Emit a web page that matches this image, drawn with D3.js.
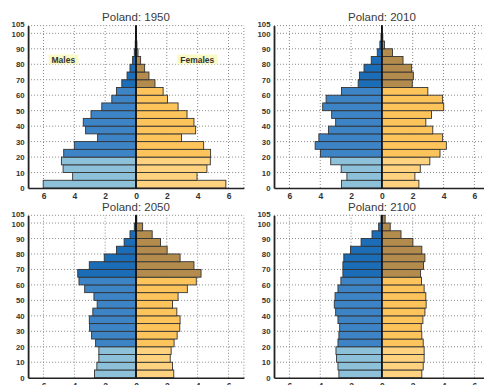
<!DOCTYPE html>
<html>
<head>
<meta charset="utf-8">
<script src="https://cdn.jsdelivr.net/npm/d3@7/dist/d3.min.js"></script>
<style>
  html, body { margin: 0; padding: 0; background: #fff; }
  svg { display: block; }
  text { font-family: "Liberation Sans", Arial, sans-serif; }
</style>
</head>
<body>
<div id="chart"></div>
<script>
// Age groups (lower bound of each five-year band; last band is 100+)
const ageStarts = [0, 5, 10, 15, 20, 25, 30, 35, 40, 45, 50, 55, 60, 65, 70, 75, 80, 85, 90, 95, 100];

const years = ["1950", "2010", "2050", "2100"];

// Share of population (%) per age band, males
const males1950 = [6.02, 4.11, 4.73, 4.84, 4.69, 4.00, 2.49, 3.27, 3.42, 2.92, 2.22, 1.57, 1.27, 0.92, 0.58, 0.39, 0.22, 0.11, 0.05, 0.02, 0.01];
const males2010 = [2.62, 2.27, 2.64, 3.32, 3.99, 4.33, 4.09, 3.47, 3.00, 3.26, 3.84, 3.62, 2.62, 1.54, 1.46, 1.16, 0.69, 0.30, 0.13, 0.06, 0.01];
const males2050 = [2.69, 2.54, 2.41, 2.41, 2.62, 2.88, 3.01, 3.03, 2.80, 2.52, 2.73, 3.33, 3.70, 3.78, 3.03, 2.06, 1.27, 0.77, 0.39, 0.11, 0.02];
const males2100 = [2.79, 2.85, 2.94, 2.98, 2.85, 2.79, 2.74, 2.85, 3.00, 3.09, 3.04, 2.85, 2.66, 2.53, 2.53, 2.47, 2.04, 1.35, 0.64, 0.21, 0.06];

// Share of population (%) per age band, females
const females1950 = [5.83, 3.96, 4.60, 4.82, 4.84, 4.39, 2.95, 3.87, 3.76, 3.31, 2.73, 2.04, 1.76, 1.23, 0.84, 0.56, 0.30, 0.13, 0.06, 0.02, 0.01];
const females2010 = [2.40, 2.14, 2.49, 3.11, 3.77, 4.18, 3.94, 3.30, 2.85, 3.22, 4.01, 3.94, 2.98, 1.97, 2.04, 1.93, 1.37, 0.69, 0.17, 0.06, 0.02];
const females2050 = [2.45, 2.37, 2.22, 2.28, 2.47, 2.67, 2.84, 2.86, 2.65, 2.37, 2.73, 3.33, 3.91, 4.22, 3.76, 2.86, 2.02, 1.59, 1.05, 0.43, 0.05];
const females2100 = [2.59, 2.68, 2.74, 2.74, 2.68, 2.59, 2.55, 2.66, 2.79, 2.87, 2.85, 2.74, 2.57, 2.51, 2.70, 2.79, 2.59, 2.01, 1.24, 0.54, 0.21];

const xTicks = [-6, -4, -2, 0, 2, 4, 6];
const yTicks = [0, 10, 20, 30, 40, 50, 60, 70, 80, 90, 100, 105];

const malesByYear = [males1950, males2010, males2050, males2100];
const femalesByYear = [females1950, females2010, females2050, females2100];

const W = 484, H = 385;
const svg = d3.select("#chart").append("svg")
  .attr("width", W).attr("height", H);

// Panel frames: left/top of plotting area, 2x2 grid
const panelW = 215.8, panelH = 162.4;
const frames = [
  { x: 28.1, y: 25.6 },
  { x: 274.0, y: 25.6 },
  { x: 28.1, y: 215.3 },
  { x: 274.0, y: 215.3 }
];

const maleColor = a => a < 20 ? "#8dc1da" : (a < 65 ? "#3d84c6" : "#1b6db7");
const femaleColor = a => a < 20 ? "#fed27e" : (a < 65 ? "#fec45c" : "#b38b4d");

years.forEach((yr, i) => {
  const f = frames[i];
  const x = d3.scaleLinear().domain([-7, 7]).range([f.x, f.x + panelW]);
  const y = d3.scaleLinear().domain([0, 105]).range([f.y + panelH, f.y]);
  const g = svg.append("g");

  // dotted grid
  const grid = g.append("g").attr("stroke", "#8a8a8a").attr("stroke-width", 1)
    .attr("stroke-dasharray", "1,2");
  [-6, -4, -2, 2, 4, 6, 7].forEach(v => {
    grid.append("line").attr("x1", x(v)).attr("x2", x(v))
      .attr("y1", y(0)).attr("y2", y(105));
  });
  yTicks.filter(v => v > 0).forEach(v => {
    grid.append("line").attr("x1", x(-7)).attr("x2", x(7))
      .attr("y1", y(v)).attr("y2", y(v));
  });

  const males = malesByYear[i], females = femalesByYear[i];
  const bars = ageStarts.map((a, k) => ({ a, m: males[k], fe: females[k] }));

  g.append("g").selectAll("rect").data(bars).join("rect")
    .attr("x", d => x(-d.m)).attr("width", d => x(0) - x(-d.m))
    .attr("y", d => y(d.a + 5)).attr("height", d => y(d.a) - y(d.a + 5))
    .attr("fill", d => maleColor(d.a))
    .attr("stroke", "#333").attr("stroke-width", 0.9);

  g.append("g").selectAll("rect").data(bars).join("rect")
    .attr("x", x(0)).attr("width", d => x(d.fe) - x(0))
    .attr("y", d => y(d.a + 5)).attr("height", d => y(d.a) - y(d.a + 5))
    .attr("fill", d => femaleColor(d.a))
    .attr("stroke", "#333").attr("stroke-width", 0.9);

  // centre line
  g.append("line").attr("x1", x(0)).attr("x2", x(0))
    .attr("y1", y(0)).attr("y2", y(105))
    .attr("stroke", "#111").attr("stroke-width", 1.8);

  // axes
  const xAxis = d3.axisBottom(x).tickValues(xTicks).tickSize(0).tickPadding(5)
    .tickFormat(d => Math.abs(d));
  const yAxis = d3.axisLeft(y).tickValues(yTicks).tickSize(0).tickPadding(3.5);

  const ax = g.append("g").attr("transform", `translate(0,${y(0)})`).call(xAxis);
  ax.select(".domain").attr("stroke", "#222").attr("stroke-width", 1.5);
  ax.selectAll("text").attr("font-size", 8.5).attr("font-weight", "bold").attr("fill", "#333");

  const ay = g.append("g").attr("transform", `translate(${x(-7)},0)`).call(yAxis);
  ay.select(".domain").attr("stroke", "#222").attr("stroke-width", 1.8);
  ay.selectAll("text").attr("font-size", 7.8).attr("font-weight", "bold").attr("fill", "#333");
  // the 105 label sits just above 100; nudge the pair apart slightly
  ay.selectAll(".tick").filter(d => d === 105).select("text").attr("dy", "0.12em");
  ay.selectAll(".tick").filter(d => d === 100).select("text").attr("dy", "0.42em");

  // title
  g.append("text").attr("x", x(0)).attr("y", f.y - 4.5)
    .attr("text-anchor", "middle").attr("font-size", 11.5).attr("fill", "#3a3a3a")
    .text("Poland: " + yr);

  // sex labels on the first panel
  if (i === 0) {
    [{ t: "Males", cx: 63.3 }, { t: "Females", cx: 197.3 }].forEach(l => {
      const lbl = g.append("g");
      const txt = lbl.append("text").attr("x", l.cx).attr("y", 62.6)
        .attr("text-anchor", "middle").attr("font-size", 8.5).attr("font-weight", "bold")
        .attr("fill", "#333").text(l.t);
      const bb = txt.node().getBBox();
      lbl.insert("rect", "text").attr("x", bb.x - 3).attr("y", 54.5)
        .attr("width", bb.width + 6).attr("height", 9.8).attr("fill", "#fafac6");
    });
  }
});
</script>
</body>
</html>
